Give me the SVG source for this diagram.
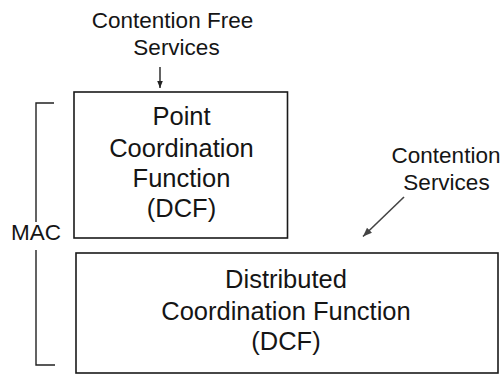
<svg xmlns="http://www.w3.org/2000/svg" width="502" height="374" viewBox="0 0 502 374">
<style>
.box{fill:#fff;stroke:#1a1a1a;stroke-width:1.6}
.lbl{font-family:"Liberation Sans",Arial,sans-serif;font-size:22.5px;fill:#151515;text-anchor:middle}
.big{font-family:"Liberation Sans",Arial,sans-serif;font-size:25.5px;fill:#151515;text-anchor:middle}
.ln{stroke:#222;stroke-width:1.4;fill:none}
</style>
<defs>
<marker id="ah" viewBox="0 0 10 10" refX="10" refY="5" markerWidth="7" markerHeight="7" markerUnits="userSpaceOnUse" orient="auto">
<path d="M0,1 L10,5 L0,9 Z" fill="#222"/>
</marker>
<marker id="ah2" viewBox="0 0 10 10" refX="10" refY="5" markerWidth="9" markerHeight="9" markerUnits="userSpaceOnUse" orient="auto">
<path d="M0,1 L10,5 L0,9 Z" fill="#444"/>
</marker>
</defs>
<rect width="502" height="374" fill="#fff"/>
<g id="pcf">
<rect class="box" x="74" y="92" width="213.5" height="146"/>
<text class="big" x="181.5" y="125">Point</text>
<text class="big" x="181.5" y="157">Coordination</text>
<text class="big" x="181.5" y="187">Function</text>
<text class="big" x="181.5" y="217">(DCF)</text>
</g>
<g id="dcf">
<rect class="box" x="76" y="253" width="422" height="120"/>
<text class="big" x="286" y="288">Distributed</text>
<text class="big" x="286" y="320">Coordination Function</text>
<text class="big" x="286" y="350">(DCF)</text>
</g>
<g id="cfs">
<text class="lbl" x="172.5" y="28">Contention Free</text>
<text class="lbl" x="176.5" y="55">Services</text>
</g>
<g id="cs">
<text class="lbl" x="446" y="163">Contention</text>
<text class="lbl" x="446.5" y="190">Services</text>
</g>
<g id="mac">
<text class="lbl" x="36" y="240">MAC</text>
<path class="ln" d="M54,103 H36 V222 M36,250 V365 H55"/>
</g>
<g id="connectors">
<line class="ln" x1="160" y1="67" x2="160" y2="88" marker-end="url(#ah)"/>
<line x1="404" y1="197" x2="363" y2="236.5" stroke="#444" stroke-width="1.6" marker-end="url(#ah2)"/>
</g>
</svg>
